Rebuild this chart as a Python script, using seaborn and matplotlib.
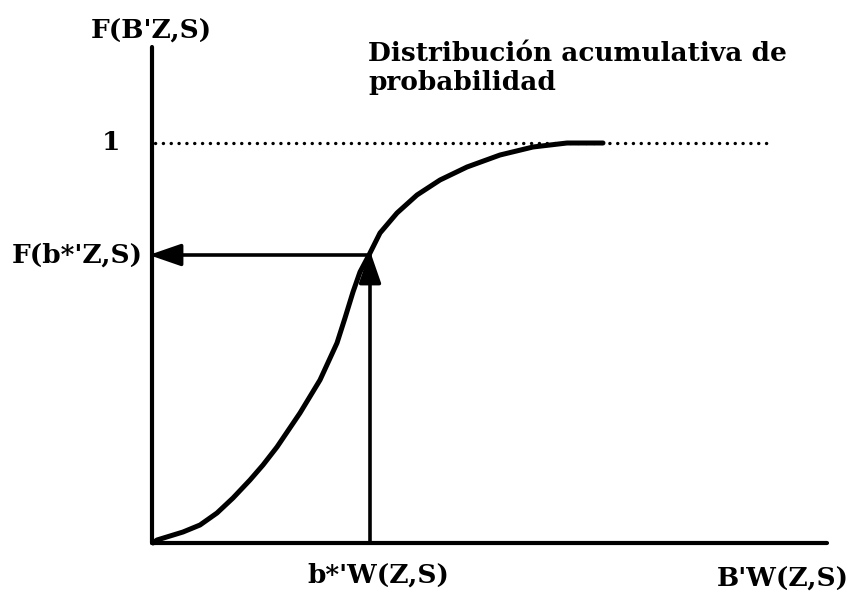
import matplotlib
matplotlib.use('Agg')
import matplotlib.pyplot as plt
import seaborn as sns

# curva de distribución acumulativa
curva_x = [0.01, 0.05, 0.31, 0.48, 0.65, 0.81, 0.98, 1.11, 1.25, 1.48, 1.68, 1.85, 1.93, 2.01, 2.08, 2.17,
           2.28, 2.45, 2.65, 2.88, 3.15, 3.48, 3.81, 4.15, 4.51]
curva_y = [0.0, 0.0075, 0.0275, 0.045, 0.075, 0.1125, 0.1575, 0.195, 0.24, 0.325, 0.4075, 0.5, 0.5625,
           0.6275, 0.6775, 0.72, 0.775, 0.825, 0.87, 0.9075, 0.94, 0.97, 0.99, 1.0, 1.0]

b_estrella = 2.18
f_b_estrella = 0.72
nivel_uno = 1.0
fin_punteado = 6.21
fin_eje_x = 6.75
fin_eje_y = 1.24

etiquetas = {
    'eje_y': "F(B'Z,S)",
    'eje_x': "B'W(Z,S)",
    'b': "b*'W(Z,S)",
    'fb': "F(b*'Z,S)",
    'uno': "1",
    'titulo': "Distribución acumulativa de\nprobabilidad",
}

sns.set_style('white')
plt.rcParams['font.family'] = ['DejaVu Serif']

fig = plt.figure(figsize=(8.56, 5.95), dpi=100)
ax = fig.add_axes([0, 0, 1, 1])
ax.set_xlim(-1.52, 7.04)
ax.set_ylim(-52 / 400, 543 / 400)
ax.axis('off')

# ejes
ax.plot([0, 0], [0, fin_eje_y], color='black', lw=3, solid_capstyle='round')
ax.plot([0, fin_eje_x], [0, 0], color='black', lw=3, solid_capstyle='round')

# línea punteada en 1
ax.plot([0.03, fin_punteado], [nivel_uno, nivel_uno], color='black', lw=2.4,
        linestyle=(0, (0.05, 2.3)), dash_capstyle='round')

# curva
sns.lineplot(x=curva_x, y=curva_y, sort=False, color='black', lw=3.6, ax=ax)
ax.lines[-1].set_solid_joinstyle('round')

# flechas
flecha = dict(arrowstyle='-|>,head_length=1.3,head_width=0.45', color='black', lw=2.6,
              shrinkA=0, shrinkB=0, mutation_scale=15)
ax.annotate('', xy=(b_estrella, f_b_estrella + 0.01), xytext=(b_estrella, 0), arrowprops=flecha)
ax.annotate('', xy=(-0.03, f_b_estrella), xytext=(b_estrella, f_b_estrella), arrowprops=flecha)

fs = 19
txt = dict(fontsize=fs, fontweight='bold', color='black')
ax.text(-0.01, 1.28, etiquetas['eje_y'], ha='center', va='center', **txt)
ax.text(2.16, 1.1325, etiquetas['titulo'], ha='left', va='baseline', linespacing=1.2, **txt)
ax.text(-0.41, nivel_uno, etiquetas['uno'], ha='center', va='center', **txt)
ax.text(-0.09, f_b_estrella, etiquetas['fb'], ha='right', va='center', **txt)
ax.text(2.26, -0.08, etiquetas['b'], ha='center', va='center', **txt)
ax.text(6.31, -0.09, etiquetas['eje_x'], ha='center', va='center', **txt)

fig.savefig('out.png', dpi=100)
